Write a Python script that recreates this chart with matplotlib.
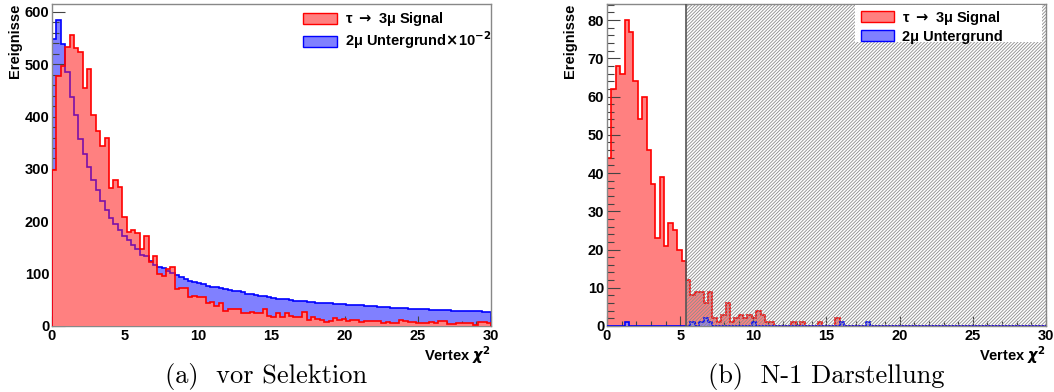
import numpy as np
import matplotlib
matplotlib.use("Agg")
import matplotlib.pyplot as plt
from matplotlib.patches import Patch, Rectangle
from matplotlib.ticker import MultipleLocator

plt.rcParams['font.family'] = ['Liberation Sans', 'DejaVu Sans']
plt.rcParams['font.weight'] = 'bold'
plt.rcParams['hatch.linewidth'] = 0.6

# 100 bins of width 0.3 in vertex chi2
edges = np.linspace(0, 30, 101)
cut = 5.4

# (a) before selection, background already scaled by 1e-2
sig_vor = [298, 478, 496, 532, 555, 531, 524, 454, 490, 403,
           373, 344, 359, 264, 278, 265, 209, 179, 183, 178,
           147, 171, 122, 134, 100, 96, 108, 112, 70, 72,
           73, 55, 57, 55, 55, 43, 46, 38, 44, 28,
           33, 33, 33, 24, 24, 27, 24, 24, 33, 20,
           18, 25, 17, 24, 19, 18, 18, 27, 12, 18,
           14, 12, 8, 10, 16, 11, 14, 9, 12, 12,
           7, 9, 9, 9, 9, 6, 7, 5, 5, 12,
           9, 7, 7, 5, 6, 6, 7, 5, 9, 9,
           4, 4, 6, 6, 5, 5, 2, 8, 8, 5]
bkg_vor = [548, 585, 539, 486, 438, 403, 357, 329, 303, 279,
           259, 239, 221, 206, 195, 184, 171, 164, 155, 147,
           136, 133, 124, 116, 113, 110, 105, 101, 97, 94,
           90, 86, 84, 82, 80, 77, 75, 74, 72, 70,
           68, 67, 66, 64, 62, 61, 60, 58, 57, 56,
           54, 52, 52, 51, 50, 48, 48, 47, 46, 45,
           44, 44, 43, 43, 42, 42, 42, 41, 41, 40,
           40, 39, 39, 38, 37, 36, 36, 35, 35, 34,
           34, 33, 33, 32, 32, 32, 31, 31, 30, 30,
           30, 29, 29, 29, 28, 28, 28, 28, 27, 26]

# (b) N-1 plot
sig_n1 = [44, 62, 68, 66, 80, 77, 64, 54, 60, 46,
          37, 23, 39, 21, 27, 25, 20, 17, 12, 8,
          9, 9, 6, 9, 2, 1, 3, 6, 1, 2,
          3, 2, 3, 2, 4, 3, 1, 1, 0, 0,
          0, 0, 1, 0, 1, 0, 0, 0, 1, 0,
          0, 0, 2, 0, 0, 0, 0, 0, 0, 0,
          0, 0, 0, 0, 0, 0, 0, 0, 0, 0,
          0, 0, 0, 0, 0, 0, 0, 0, 0, 0,
          0, 0, 0, 0, 0, 0, 0, 0, 0, 0,
          0, 0, 0, 0, 0, 0, 0, 0, 0, 0]
bkg_n1 = [0, 0, 0, 0, 1, 0, 0, 0, 0, 0,
          0, 0, 0, 0, 0, 0, 0, 0, 0, 1,
          0, 1, 2, 1, 0, 0, 0, 0, 0, 0,
          0, 0, 0, 1, 0, 0, 0, 0, 0, 0,
          0, 0, 0, 0, 0, 0, 0, 0, 0, 0,
          0, 0, 0, 1, 0, 0, 0, 0, 0, 1,
          0, 0, 0, 0, 0, 0, 0, 0, 0, 0,
          0, 0, 0, 0, 0, 0, 0, 0, 0, 0,
          0, 0, 0, 0, 0, 0, 0, 0, 0, 0,
          0, 0, 0, 0, 0, 0, 0, 0, 0, 0]

sig_label = r'τ $\rightarrow$ 3μ Signal'
RED_FILL = '#ff8080'
BLUE_FILL = '#8080ff'


def style_axis(ax, ymax, ymajor, yminor):
    ax.set_xlim(0, 30)
    ax.set_ylim(0, ymax)
    ax.xaxis.set_major_locator(MultipleLocator(5))
    ax.xaxis.set_minor_locator(MultipleLocator(1))
    ax.yaxis.set_major_locator(MultipleLocator(ymajor))
    ax.yaxis.set_minor_locator(MultipleLocator(yminor))
    ax.tick_params(axis='both', which='both', direction='in', colors='#444444',
                   width=0.8, labelcolor='black', labelsize=10.5)
    ax.tick_params(axis='x', which='major', length=7, pad=2)
    ax.tick_params(axis='x', which='minor', length=3.5)
    ax.tick_params(axis='y', which='major', length=9.5, pad=2)
    ax.tick_params(axis='y', which='minor', length=4.7)
    for s in ax.spines.values():
        s.set_color('#888888')
        s.set_linewidth(1.0)
    ax.text(-0.085, 1.0, 'Ereignisse', rotation=90, ha='center', va='top',
            fontsize=10.5, transform=ax.transAxes)
    ax.text(1.0, -0.058, r'Vertex $\chi^{2}$', ha='right', va='top',
            fontsize=10.5, transform=ax.transAxes)


def legend_handles():
    return [Patch(facecolor=RED_FILL, edgecolor='red'),
            Patch(facecolor=BLUE_FILL, edgecolor='blue')]


fig = plt.figure(figsize=(10.54, 3.92), dpi=100)
ax1 = fig.add_axes([0.0493, 0.1684, 0.4165, 0.8214])
ax2 = fig.add_axes([0.5759, 0.1684, 0.4165, 0.8214])

# left: red drawn over blue, blue outline shows through as purple
ax1.stairs(bkg_vor, edges, fill=True, color=BLUE_FILL, zorder=1)
ax1.stairs(bkg_vor, edges, color='blue', lw=1.2, zorder=2)
red_fill = ax1.stairs(sig_vor, edges, fill=True, color=RED_FILL, zorder=3)
purple = ax1.stairs(bkg_vor, edges, color='#7a10a8', lw=1.2, zorder=4)
purple.set_clip_path(red_fill)
ax1.stairs(sig_vor, edges, color='red', lw=1.2, zorder=5)
style_axis(ax1, 615, 100, 20)

ax1.legend(legend_handles(),
           [sig_label, r'2μ Untergrund$\times$10$^{-2}$'],
           loc='upper right', bbox_to_anchor=(1.0, 0.98), frameon=False,
           fontsize=10.5, handlelength=2.3, handleheight=0.8,
           handletextpad=0.55, labelspacing=0.08, borderpad=0,
           borderaxespad=0)

# right: N-1 distribution with the cut region hatched
ax2.stairs(sig_n1, edges, fill=True, color=RED_FILL, zorder=1)
ax2.stairs(sig_n1, edges, color='red', lw=1.2, zorder=2)
ax2.stairs(bkg_n1, edges, fill=True, color=BLUE_FILL, alpha=0.8, zorder=3)
ax2.stairs(bkg_n1, edges, color='blue', lw=1.2, zorder=4)
ax2.axvspan(cut, 30, facecolor='none', edgecolor='#8c8c8c',
            hatch='//////////', lw=0, zorder=6)
ax2.axvline(cut, color='#555555', lw=1.2, zorder=7)
style_axis(ax2, 84.2, 10, 2)

# white legend box as wide as the ROOT one
ax2.add_patch(Rectangle((0.565, 0.882), 0.426, 0.115, transform=ax2.transAxes,
                        facecolor='white', edgecolor='none', zorder=9))
leg2 = ax2.legend(legend_handles(), [sig_label, '2μ Untergrund'],
                  loc='upper left', bbox_to_anchor=(0.578, 0.985),
                  frameon=False, fontsize=10.5, handlelength=2.3,
                  handleheight=0.8, handletextpad=0.55, labelspacing=0.2,
                  borderpad=0, borderaxespad=0)
leg2.set_zorder(10)

# subfigure captions
fig.text(0.252, 0.023, '(a)  vor Selektion', family='cmr10', weight='normal',
         fontsize=19, ha='center', va='baseline')
fig.text(0.784, 0.023, '(b)  N-1 Darstellung', family='cmr10', weight='normal',
         fontsize=19, ha='center', va='baseline')

fig.savefig('out.png', dpi=100)
